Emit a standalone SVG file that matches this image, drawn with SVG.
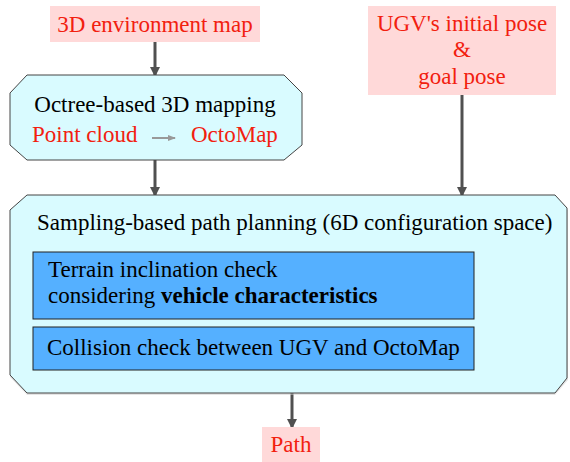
<svg xmlns="http://www.w3.org/2000/svg" width="570" height="462" viewBox="0 0 570 462">
<defs>
<marker id="ah" markerWidth="10" markerHeight="10" refX="8" refY="5" orient="auto" markerUnits="userSpaceOnUse"><path d="M0,0 L10,5 L0,10 z" fill="#505050"/></marker>
<marker id="ahg" markerWidth="8" markerHeight="8" refX="7" refY="4" orient="auto" markerUnits="userSpaceOnUse"><path d="M0,1 L8,4 L0,7 z" fill="#999"/></marker>
<style>
text{font-family:'Liberation Serif','Times New Roman',serif;font-size:23px;}
.red{fill:#f2200f;}
.blk{fill:#000;}
.pink{fill:#ffd9d9;stroke:none;}
.cyan{fill:#d9fbff;stroke:#444;stroke-width:1;}
.blue{fill:#55b0ff;stroke:#222;stroke-width:1;}
.arr{stroke:#505050;stroke-width:3;fill:none;marker-end:url(#ah);}
</style>
</defs>
<g id="connectors">
<line class="arr" x1="155" y1="42" x2="155" y2="75"/>
<line class="arr" x1="155" y1="160" x2="155" y2="195"/>
<line class="arr" x1="462" y1="95" x2="462" y2="195"/>
<line class="arr" x1="292" y1="393" x2="292" y2="427"/>
</g>
<g id="env-map">
<rect class="pink" x="50" y="6" width="210" height="36"/>
<text class="red" x="155" y="32" text-anchor="middle" font-family="'Liberation Serif', serif">3D environment map</text>
</g>
<g id="ugv-pose">
<rect class="pink" x="368" y="6" width="188" height="89"/>
<text class="red" x="462" y="31" text-anchor="middle" font-family="'Liberation Serif', serif">UGV's initial pose</text>
<text class="red" x="462" y="57" text-anchor="middle" font-family="'Liberation Serif', serif">&amp;</text>
<text class="red" x="462" y="84" text-anchor="middle" font-family="'Liberation Serif', serif">goal pose</text>
</g>
<g id="octree">
<path class="cyan" d="M27,75 H284 L302,93 V145 L284,160 H27 L10,145 V93 Z"/>
<text class="blk" x="155" y="112" text-anchor="middle" font-family="'Liberation Serif', serif">Octree-based 3D mapping</text>
<text class="red" x="32" y="142" font-family="'Liberation Serif', serif">Point cloud</text>
<line x1="152" y1="138" x2="175" y2="138" stroke="#999" stroke-width="2" marker-end="url(#ahg)"/>
<text class="red" x="191" y="142" font-family="'Liberation Serif', serif">OctoMap</text>
</g>
<g id="planning">
<path d="M27,197 H555 L568,210 V380 L555,395 H27 L10,377 V212 Z" fill="#ccc" opacity="0.5"/>
<path class="cyan" d="M27,195 H555 L567,208 V378 L555,393 H27 L10,375 V210 Z"/>
<text class="blk" x="37" y="230" font-family="'Liberation Serif', serif">Sampling-based path planning (6D configuration space)</text>
</g>
<g id="terrain-check">
<rect class="blue" x="33" y="252" width="441" height="67"/>
<text class="blk" x="48" y="277" font-family="'Liberation Serif', serif">Terrain inclination check</text>
<text class="blk" x="48" y="303" font-family="'Liberation Serif', serif">considering <tspan font-weight="bold">vehicle characteristics</tspan></text>
</g>
<g id="collision-check">
<rect class="blue" x="33" y="327" width="441" height="43"/>
<text class="blk" x="47" y="355" font-family="'Liberation Serif', serif">Collision check between UGV and OctoMap</text>
</g>
<g id="path">
<rect class="pink" x="262" y="427" width="58" height="35"/>
<text class="red" x="291" y="452" text-anchor="middle" font-family="'Liberation Serif', serif">Path</text>
</g>
</svg>
